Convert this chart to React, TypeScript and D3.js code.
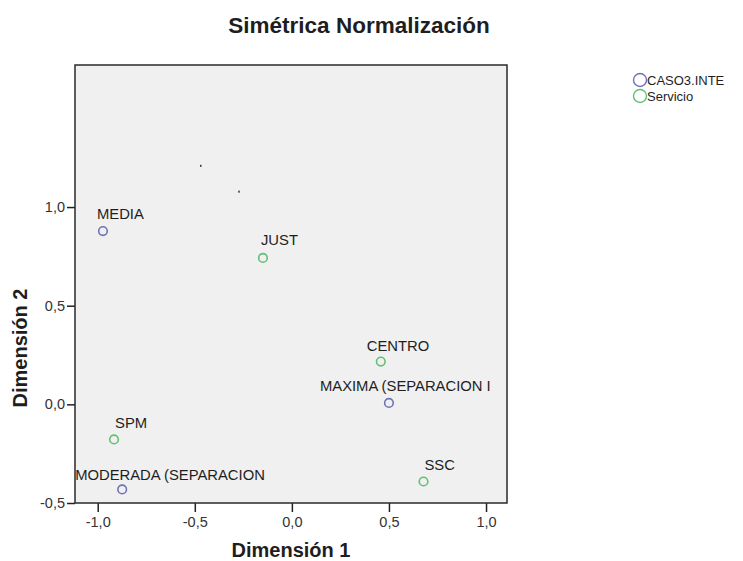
import { useEffect, useRef } from 'react'
import * as d3 from 'd3'

// category points (Dimensión 1, Dimensión 2)
const pointLabels = ['MEDIA', 'JUST', 'CENTRO', 'MAXIMA (SEPARACION I', 'SPM', 'MODERADA (SEPARACION', 'SSC']
const dim1 = [-0.973, -0.149, 0.458, 0.500, -0.916, -0.874, 0.678]
const dim2 = [0.878, 0.742, 0.217, 0.007, -0.178, -0.431, -0.391]
const pointGroup = ['CASO3.INTE', 'Servicio', 'Servicio', 'CASO3.INTE', 'Servicio', 'CASO3.INTE', 'Servicio']

// stray marks left in the plot
const speckX = [-0.468, -0.271]
const speckY = [1.209, 1.078]

const groups = ['CASO3.INTE', 'Servicio']
const xTicks = [-1.0, -0.5, 0.0, 0.5, 1.0]
const yTicks = [-0.5, 0.0, 0.5, 1.0]

const COLORS: Record<string, string> = { 'CASO3.INTE': '#6e72b6', Servicio: '#62c074' }

// label placement relative to the point (px)
const LABEL_OFFSET: Record<string, [number, number]> = {
  'MEDIA': [-6, -12],
  'JUST': [-2, -12.5],
  'CENTRO': [-14, -11],
  'MAXIMA (SEPARACION I': [-69, -12],
  'SPM': [1, -11.5],
  'MODERADA (SEPARACION': [-47, -9],
  'SSC': [1, -11.5],
}

const W = 743
const H = 561
const PLOT = { left: 75, right: 507, top: 65, bottom: 503 }
const FONT = '"Liberation Sans", Arial, sans-serif'

const fmt = (v: number) => {
  const s = Math.abs(v).toFixed(1).replace('.', ',')
  return v < 0 ? '-' + s : s
}

export default function App() {
  const svgRef = useRef<SVGSVGElement>(null)

  useEffect(() => {
    if (!svgRef.current) return
    const svg = d3.select(svgRef.current)
    svg.selectAll('*').remove()

    const x = d3.scaleLinear().domain([-1.117, 1.108]).range([PLOT.left, PLOT.right])
    const y = d3.scaleLinear().domain([-0.5, 1.72]).range([PLOT.bottom, PLOT.top])

    // title
    svg.append('text')
      .attr('x', 359)
      .attr('y', 33)
      .attr('text-anchor', 'middle')
      .attr('font-family', FONT)
      .attr('font-weight', 'bold')
      .attr('font-size', 22.5)
      .attr('fill', '#1e1e1e')
      .text('Simétrica Normalización')

    // plot area
    svg.append('rect')
      .attr('x', PLOT.left)
      .attr('y', PLOT.top)
      .attr('width', PLOT.right - PLOT.left)
      .attr('height', PLOT.bottom - PLOT.top)
      .attr('fill', '#f0f0f0')

    // axes
    const xAxis = svg.append('g')
      .attr('transform', `translate(0,${PLOT.bottom})`)
      .call(d3.axisBottom(x).tickValues(xTicks).tickFormat(d => fmt(+d)).tickSize(9).tickPadding(5))
    const yAxis = svg.append('g')
      .attr('transform', `translate(${PLOT.left},0)`)
      .call(d3.axisLeft(y).tickValues(yTicks).tickFormat(d => fmt(+d)).tickSize(8).tickPadding(2))

    for (const ax of [xAxis, yAxis]) {
      ax.select('.domain').remove()
      ax.selectAll('line').attr('stroke', '#222').attr('stroke-width', 1.5)
      ax.selectAll('text')
        .attr('font-family', FONT)
        .attr('font-size', 14.5)
        .attr('fill', '#333')
    }

    svg.append('rect')
      .attr('x', PLOT.left)
      .attr('y', PLOT.top)
      .attr('width', PLOT.right - PLOT.left)
      .attr('height', PLOT.bottom - PLOT.top)
      .attr('fill', 'none')
      .attr('stroke', '#2a2a2a')
      .attr('stroke-width', 1.5)

    // axis titles
    svg.append('text')
      .attr('x', 291)
      .attr('y', 557)
      .attr('text-anchor', 'middle')
      .attr('font-family', FONT)
      .attr('font-weight', 'bold')
      .attr('font-size', 20)
      .attr('fill', '#1e1e1e')
      .text('Dimensión 1')

    svg.append('text')
      .attr('transform', 'translate(27,348) rotate(-90)')
      .attr('text-anchor', 'middle')
      .attr('font-family', FONT)
      .attr('font-weight', 'bold')
      .attr('font-size', 20)
      .attr('fill', '#1e1e1e')
      .text('Dimensión 2')

    // specks
    svg.selectAll('rect.speck')
      .data(speckX.map((v, i) => [v, speckY[i]]))
      .enter()
      .append('rect')
      .attr('class', 'speck')
      .attr('x', d => x(d[0]) - 1)
      .attr('y', d => y(d[1]) - 1)
      .attr('width', 1.5)
      .attr('height', 2)
      .attr('fill', '#333')

    const pts = pointLabels.map((label, i) => ({ label, d1: dim1[i], d2: dim2[i], group: pointGroup[i] }))

    svg.selectAll('circle.pt')
      .data(pts)
      .enter()
      .append('circle')
      .attr('class', 'pt')
      .attr('cx', p => x(p.d1))
      .attr('cy', p => y(p.d2))
      .attr('r', 4.3)
      .attr('fill', 'none')
      .attr('stroke', p => COLORS[p.group])
      .attr('stroke-width', 1.6)

    svg.selectAll('text.lbl')
      .data(pts)
      .enter()
      .append('text')
      .attr('class', 'lbl')
      .attr('x', p => x(p.d1) + LABEL_OFFSET[p.label][0])
      .attr('y', p => y(p.d2) + LABEL_OFFSET[p.label][1])
      .attr('font-family', FONT)
      .attr('font-size', 14.8)
      .attr('fill', '#1e1e1e')
      .text(p => p.label)

    // legend
    const lg = svg.append('g').attr('transform', 'translate(640,80)')
    groups.forEach((g, i) => {
      lg.append('circle')
        .attr('cx', 0)
        .attr('cy', i * 16)
        .attr('r', 6.5)
        .attr('fill', 'none')
        .attr('stroke', COLORS[g])
        .attr('stroke-width', 1.4)
      lg.append('text')
        .attr('x', 7)
        .attr('y', i * 16 + 4.5)
        .attr('font-family', FONT)
        .attr('font-size', 13)
        .attr('fill', '#1e1e1e')
        .text(g)
    })
  }, [])

  return (
    <svg
      ref={svgRef}
      width={W}
      height={H}
      style={{ position: 'absolute', left: 0, top: 0, background: '#fff' }}
    />
  )
}
